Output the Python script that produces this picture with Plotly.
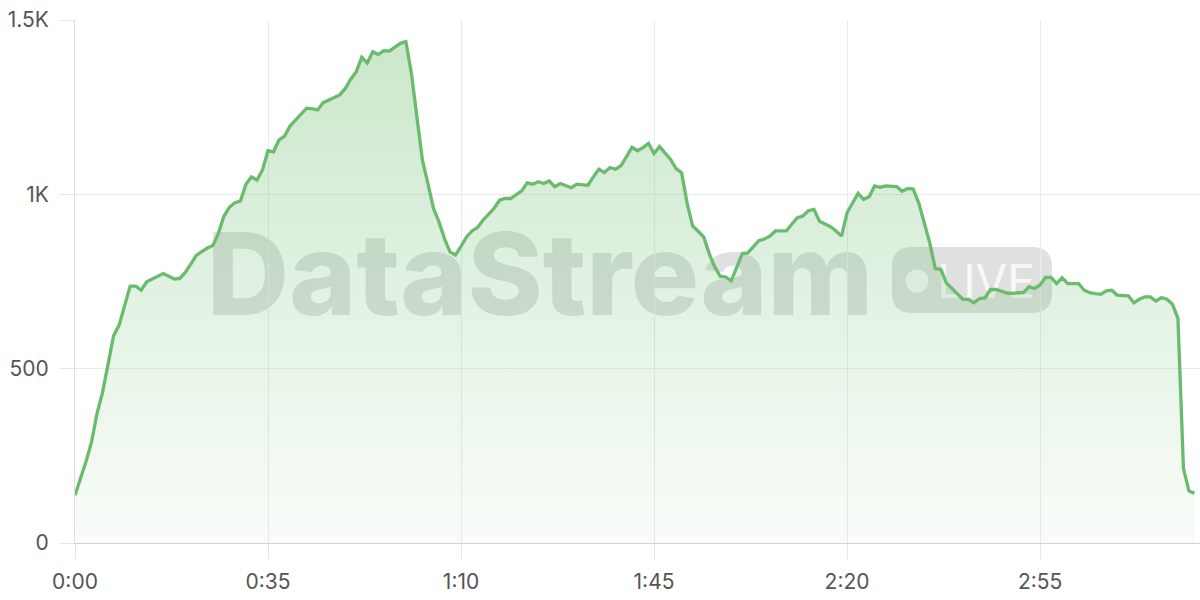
import plotly.graph_objects as go

# ---- data (one sample per second) ----
seconds = list(range(204))
viewers = [
    137, 182, 234, 290, 372, 432, 518, 594, 625, 682,
    737, 737, 725, 749, 757, 763, 773, 765, 757, 759,
    776, 800, 825, 836, 846, 853, 888, 937, 963, 976,
    981, 1029, 1050, 1041, 1070, 1125, 1122, 1156, 1167, 1196,
    1213, 1230, 1247, 1245, 1242, 1263, 1270, 1278, 1285, 1303,
    1330, 1352, 1393, 1377, 1409, 1401, 1412, 1411, 1423, 1433,
    1438, 1347, 1222, 1098, 1031, 960, 921, 873, 835, 826,
    851, 878, 895, 905, 926, 942, 960, 983, 988, 988,
    1000, 1010, 1033, 1029, 1036, 1031, 1038, 1022, 1031, 1024,
    1019, 1029, 1027, 1026, 1050, 1072, 1063, 1077, 1072, 1082,
    1108, 1135, 1125, 1134, 1146, 1117, 1137, 1119, 1100, 1074,
    1062, 974, 909, 894, 878, 830, 792, 765, 763, 752,
    792, 830, 832, 849, 867, 872, 880, 895, 895, 895,
    915, 933, 938, 953, 957, 923, 915, 907, 895, 880,
    947, 974, 1003, 985, 993, 1024, 1020, 1024, 1023, 1022,
    1009, 1017, 1015, 975, 918, 860, 787, 785, 746, 731,
    716, 699, 699, 689, 701, 703, 727, 727, 722, 717,
    716, 717, 719, 735, 730, 740, 762, 762, 744, 761,
    744, 744, 744, 725, 718, 715, 713, 723, 725, 711,
    710, 709, 689, 699, 706, 706, 694, 704, 699, 685,
    644, 214, 149, 143,
]
x_tick_vals = [0, 35, 70, 105, 140, 175]
x_tick_text = ["0:00", "0:35", "1:10", "1:45", "2:20", "2:55"]
y_tick_vals = [0, 500, 1000, 1500]
y_tick_text = ["0", "500", "1K", "1.5K"]

# ---- layout geometry (pixels) ----
W, H = 1200, 600
ML, MR, MT, MB = 75, 0, 20, 57
PW, PH = W - ML - MR, H - MT - MB


def px(x):
    return (x - ML) / PW


def py(y):
    return (H - MB - y) / PH


GREEN = "#6abb6d"
FONT = "Inter, 'Liberation Sans', sans-serif"

fig = go.Figure()
fig.add_trace(go.Scatter(
    x=seconds, y=viewers, mode="lines",
    line=dict(color=GREEN, width=3.3),
    fill="tozeroy",
    fillgradient=dict(
        type="vertical",
        colorscale=[[0, "rgba(102,187,106,0.04)"], [1, "rgba(102,187,106,0.36)"]],
        start=0, stop=1500,
    ),
    hoverinfo="skip", showlegend=False,
))

# ---- watermark ----
shapes = []
shapes.append(dict(
    type="rect", xref="paper", yref="paper", layer="below",
    x0=px(190), x1=px(890), y0=py(318), y1=py(220),
    line=dict(width=0), fillcolor="rgba(0,0,0,0)",
    label=dict(text="DataStream", textposition="middle center",
               font=dict(family=FONT, size=114, color="rgba(0,0,0,0.12)", weight=800)),
))
bx0, bx1, by0, by1, r = 892, 1052, 247, 313, 20
pts = [
    ("M", bx0 + r, by0), ("L", bx1 - r, by0), ("Q", bx1, by0, bx1, by0 + r),
    ("L", bx1, by1 - r), ("Q", bx1, by1, bx1 - r, by1),
    ("L", bx0 + r, by1), ("Q", bx0, by1, bx0, by1 - r),
    ("L", bx0, by0 + r), ("Q", bx0, by0, bx0 + r, by0),
]
path = ""
for p in pts:
    cmd = p[0]
    coords = p[1:]
    seg = []
    for i in range(0, len(coords), 2):
        seg.append(f"{px(coords[i]):.5f},{py(coords[i+1]):.5f}")
    path += cmd + " ".join(seg) + " "
path += "Z"
shapes.append(dict(type="path", xref="paper", yref="paper", layer="below",
                   path=path, line=dict(width=0), fillcolor="rgba(0,0,0,0.12)"))
shapes.append(dict(type="circle", xref="paper", yref="paper", layer="below",
                   x0=px(905.5), x1=px(928.5), y0=py(292.5), y1=py(269.5),
                   line=dict(width=0), fillcolor="rgba(255,255,255,0.8)"))
shapes.append(dict(
    type="rect", xref="paper", yref="paper", layer="below",
    x0=px(930), x1=px(1042), y0=py(310), y1=py(250),
    line=dict(width=0), fillcolor="rgba(0,0,0,0)",
    label=dict(text="LIVE", textposition="middle center",
               font=dict(family=FONT, size=46, color="rgba(255,255,255,0.8)")),
))

fig.update_layout(
    width=W, height=H,
    margin=dict(l=ML, r=MR, t=MT, b=MB, autoexpand=False),
    paper_bgcolor="white", plot_bgcolor="white",
    shapes=shapes,
    font=dict(family=FONT, size=21, color="#555555"),
    xaxis=dict(
        range=[0, 204], tickvals=x_tick_vals, ticktext=x_tick_text,
        showgrid=True, gridcolor="#ebebeb", gridwidth=1,
        ticks="outside", ticklen=15, tickcolor="#e6e6e6", tickwidth=1,
        showline=True, linecolor="#d2d2d2", linewidth=1,
        zeroline=False, fixedrange=True, automargin=False, ticklabelstandoff=5,
    ),
    yaxis=dict(
        range=[0, 1500], tickvals=y_tick_vals, ticktext=y_tick_text,
        showgrid=True, gridcolor="#ebebeb", gridwidth=1,
        ticks="outside", ticklen=15, tickcolor="#e6e6e6", tickwidth=1,
        showline=True, linecolor="#dedede", linewidth=1,
        zeroline=False, fixedrange=True, ticklabelstandoff=6, automargin=False,
    ),
)

fig.write_html(
    "out.html",
    config={"displayModeBar": False, "staticPlot": True},
    post_script="document.body.style.margin='0';document.body.style.overflow='hidden';",
)
